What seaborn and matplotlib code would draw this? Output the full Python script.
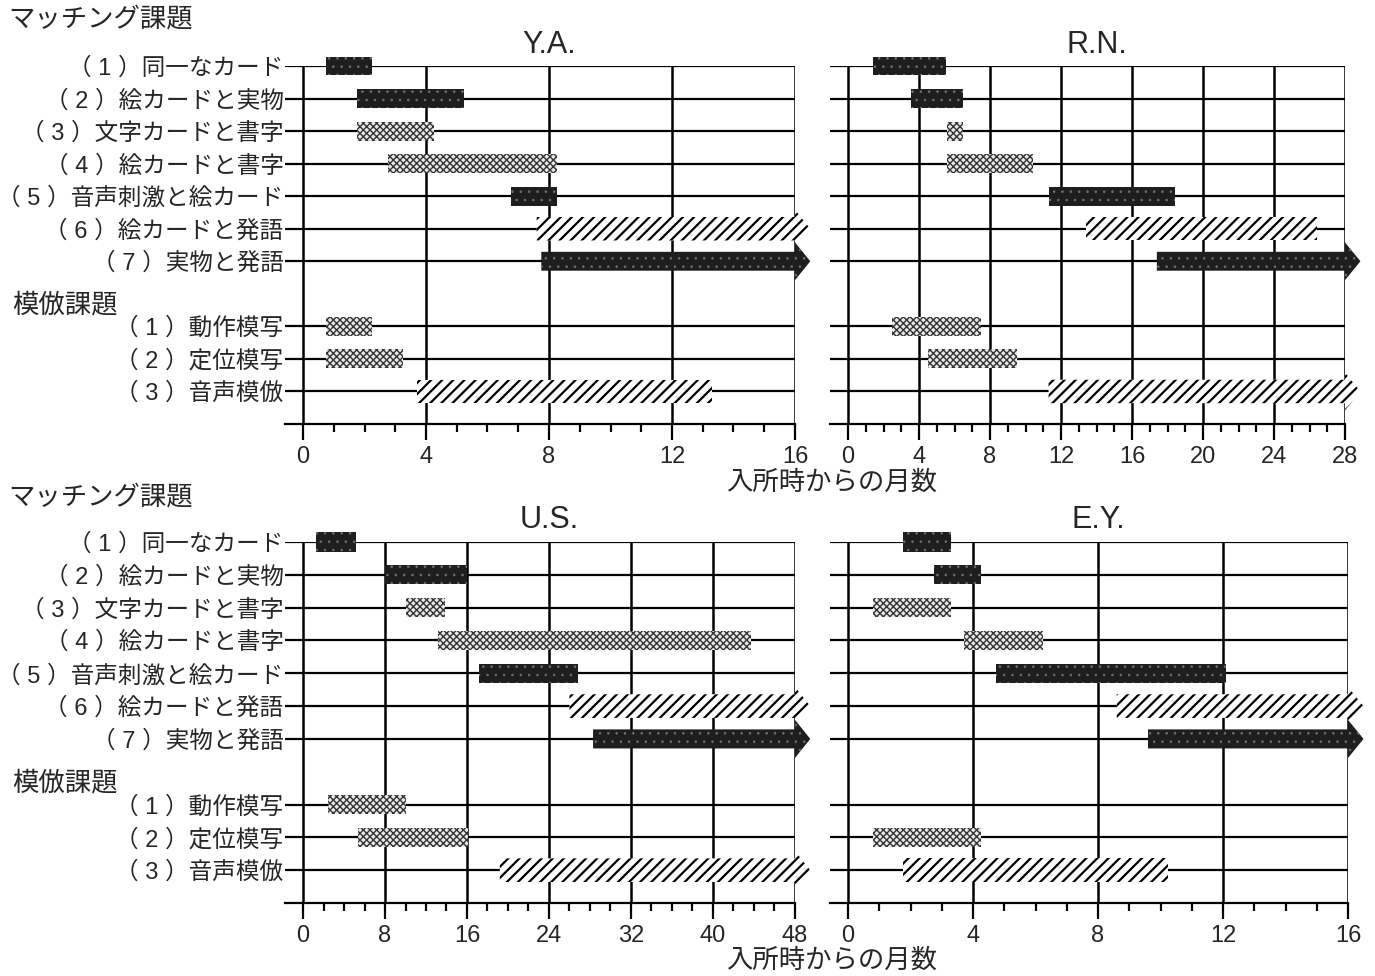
import numpy as np
import matplotlib
matplotlib.use("Agg")
import matplotlib.pyplot as plt
from matplotlib.patches import Polygon
import seaborn as sns

# task rows (same for every child)
task_labels = ["（ 1 ）同一なカード", "（ 2 ）絵カードと実物", "（ 3 ）文字カードと書字",
               "（ 4 ）絵カードと書字", "（ 5 ）音声刺激と絵カード", "（ 6 ）絵カードと発語",
               "（ 7 ）実物と発語", "（ 1 ）動作模写", "（ 2 ）定位模写", "（ 3 ）音声模倣"]
task_rows = [0, 1, 2, 3, 4, 5, 6, 8, 9, 10]
task_kinds = ["dark", "dark", "light", "light", "dark", "hatch", "dark",
              "light", "light", "hatch"]

# months since admission; inf = still going at end of chart, nan = no bar
ya_start = [0.75, 1.75, 1.75, 2.75, 6.75, 7.6, 7.75, 0.75, 0.75, 3.7]
ya_end = [2.25, 5.25, 4.25, 8.25, 8.25, np.inf, np.inf, 2.25, 3.25, 13.3]
rn_start = [1.4, 3.55, 5.6, 5.6, 11.3, 13.4, 17.4, 2.5, 4.5, 11.3]
rn_end = [5.5, 6.5, 6.5, 10.4, 18.4, 26.4, np.inf, 7.5, 9.5, np.inf]
us_start = [1.25, 8.0, 10.0, 13.2, 17.2, 26.0, 28.3, 2.4, 5.4, 19.2]
us_end = [5.2, 16.0, 13.9, 43.7, 26.8, np.inf, np.inf, 10.0, 16.1, np.inf]
ey_start = [1.75, 2.75, 0.8, 3.7, 4.75, 8.6, 9.6, np.nan, 0.8, 1.75]
ey_end = [3.3, 4.25, 3.3, 6.25, 12.1, np.inf, np.inf, np.nan, 4.25, 10.25]

children = ["Y.A.", "R.N.", "U.S.", "E.Y."]
x_max = [16, 28, 48, 16]
x_major = [4, 4, 8, 4]
x_minor = [1, 1, 2, 1]

W, H = 1375, 976

sns.set_theme(style="white")
plt.rcParams["font.family"] = ["Liberation Sans", "Noto Sans CJK JP", "DejaVu Sans"]

STYLE = {
    "dark": dict(facecolor="#1e1e1e", edgecolor="#707070", hatch="..", height=0.58, hlw=0.6),
    "light": dict(facecolor="#e8e8e8", edgecolor="#333333", hatch="xxxxx", height=0.58, hlw=1.0),
    "hatch": dict(facecolor="white", edgecolor="black", hatch="///", height=0.72, hlw=1.6),
}


def make_patch(ax, kind, start, end, row, xmax):
    st = STYLE[kind]
    h = st["height"] / 2
    if np.isinf(end):
        head = 0.031 * xmax
        hh = 0.58
        pts = [(start, row - h), (xmax, row - h), (xmax, row - hh), (xmax + head, row),
               (xmax, row + hh), (xmax, row + h), (start, row + h)]
    else:
        pts = [(start, row - h), (end, row - h), (end, row + h), (start, row + h)]
    with plt.rc_context({"hatch.linewidth": st["hlw"]}):
        p = Polygon(pts, closed=True, facecolor=st["facecolor"], edgecolor=st["edgecolor"],
                    hatch=st["hatch"], linewidth=0, zorder=3, clip_on=False)
        if hasattr(p, "set_hatch_linewidth"):
            p.set_hatch_linewidth(st["hlw"])
    ax.add_patch(p)


def draw_panel(ax, name, starts, ends, xmax, major, minor, left_frac, show_labels):
    xmin = xmax * left_frac
    ax.set_xlim(xmin, xmax)
    ax.set_ylim(11, 0)
    for s in ["top", "right", "left"]:
        ax.spines[s].set_visible(False)
    ax.spines["bottom"].set_linewidth(1.6)
    ax.spines["bottom"].set_color("black")

    ax.hlines(task_rows, xmin, xmax, color="black", lw=1.6, zorder=1)
    majors = np.arange(0, xmax + 1, major)
    ax.vlines(majors, 0, 11, color="black", lw=1.8, zorder=1)

    ax.set_xticks(majors)
    ax.set_xticks(np.arange(0, xmax + 1, minor), minor=True)
    ax.tick_params(axis="x", which="major", length=11.5, width=1.6, direction="out",
                   color="black", labelsize=17, pad=4, bottom=True)
    ax.tick_params(axis="x", which="minor", length=6, width=1.6, direction="out",
                   color="black", bottom=True)

    if show_labels:
        ax.set_yticks(task_rows, task_labels, fontsize=17)
        ax.tick_params(axis="y", length=0, pad=1, left=True)
    else:
        ax.set_yticks([])

    for kind, s, e, r in zip(task_kinds, starts, ends, task_rows):
        if np.isnan(s):
            continue
        make_patch(ax, kind, s, e, r, xmax)

    ax.text(xmax / 2, -0.66, name, ha="center", va="center", fontsize=22)


fig = plt.figure(figsize=(W / 100, H / 100), dpi=100)

# panel geometry in pixels: (left edge, zero, right edge, top row, axis line)
geo = [(285, 303, 795, 66, 424), (830, 848, 1345, 66, 424),
       (285, 303, 795, 542, 903), (830, 848, 1348, 542, 903)]
all_starts = [ya_start, rn_start, us_start, ey_start]
all_ends = [ya_end, rn_end, us_end, ey_end]

for i, (left, zero, right, top, bot) in enumerate(geo):
    ax = fig.add_axes([left / W, 1 - bot / H, (right - left) / W, (bot - top) / H])
    ax.patch.set_alpha(0)
    draw_panel(ax, children[i], all_starts[i], all_ends[i], x_max[i], x_major[i],
               x_minor[i], (left - zero) / (right - zero), i % 2 == 0)

for y_top in [20, 498]:
    fig.text(8 / W, 1 - y_top / H, "マッチング課題", fontsize=19, va="center", ha="left")
for y_im in [305, 783]:
    fig.text(12 / W, 1 - y_im / H, "模倣課題", fontsize=19, va="center", ha="left")
for y_lab in [483, 961]:
    fig.text(832 / W, 1 - y_lab / H, "入所時からの月数", fontsize=19, va="center", ha="center")

fig.savefig("out.png", dpi=100, facecolor="white")
